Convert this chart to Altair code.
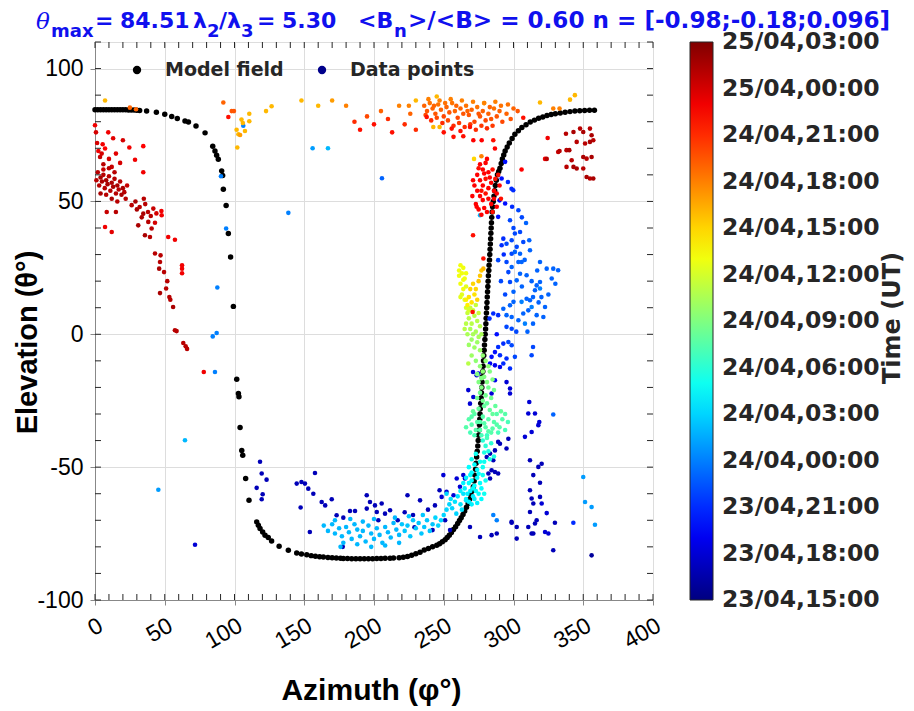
import altair as alt
import pandas as pd

# ---------------- values ----------------
# model field: [azimuth, elevation]
model_field = [
    [0,84.5],[2,84.5],[4,84.5],[6,84.5],[8,84.5],[10,84.5],[12,84.5],[14,84.5],[16,84.5],[18,84.5],
    [20,84.5],[22,84.5],[24,84.4],[26,84.4],[28,84.4],[30,84.3],[32,84.2],[37,84],[44,83.6],[50,82.8],
    [55,82],[59,81.2],[64.5,80.3],[67,79.9],[72.4,78.4],[78.9,75.8],[84.4,70.8],[86,69],[87.2,67.4],
    [88.4,65.9],[90.8,61.5],[91.5,59.8],[92,54.6],[94,48.5],[95.6,37.9],[97.2,29.1],[99.2,10.5],
    [101.6,-16.9],[102.8,-22.3],[103.2,-23.5],[104,-35.1],[105.2,-43.7],[105.9,-45.5],[108,-54.3],
    [110.4,-62.5],[115.9,-70.6],[117.1,-71.9],[118.3,-73.1],[120.2,-74.4],[121.9,-75.6],[124.2,-76.5],
    [126.6,-77.8],[132,-79.8],[138.6,-81.3],[144.6,-82.3],[148,-82.7],[151.8,-83],[155,-83.3],[158,-83.5],
    [161,-83.7],[163.7,-83.8],[167,-84],[170,-84.1],[173,-84.2],[176,-84.3],[178,-84.4],[181,-84.4],
    [184,-84.5],[187,-84.5],[190,-84.5],[193,-84.5],[196,-84.5],[199,-84.5],[202,-84.4],[205,-84.4],
    [208,-84.3],[211.5,-84.3],[214,-84.2],[218,-84.1],[221,-83.9],[224,-83.6],[227,-83.2],[230,-82.6],
    [233,-82],[236,-81.2],[239,-80.6],[242,-80],[245,-79.4],[247,-78.8],[249,-78.1],[251,-77.3],
    [252.5,-76.5],[254,-75.6],[255.5,-74.6],[257,-73.5],[258.5,-72.4],[260,-71.2],[261.3,-70.1],
    [262.5,-69],[263.8,-67.8],[265,-66.5],[266.3,-65.1],[267.5,-63.7],[268.5,-62.1],[269.5,-60.5],
    [270.4,-59],[271.2,-57.4],[271.8,-55.2],[272.3,-53],[272.8,-50.8],[273.2,-48.5],[273.6,-46.2],
    [274,-44],[274.4,-42],[274.7,-40],[275,-38],[275.3,-36],[275.6,-34],[275.8,-32],[276,-30],
    [276.2,-28],[276.5,-26],[276.8,-24],[277,-22],[277.3,-20],[277.5,-18],[277.7,-16],[278,-14],
    [278.2,-12],[278.5,-10],[278.7,-8],[279,-6],[279.2,-4],[279.5,-2],[279.7,0],[280,2],[280.2,4],
    [280.4,6],[280.6,8],[280.8,10],[281,12],[281.2,14],[281.4,16],[281.6,18],[281.8,20],[282,22],
    [282.3,24],[282.5,26],[282.8,28],[283,30],[283.2,32],[283.4,34],[283.6,36],[283.8,38],[284,40],
    [284.2,42],[284.4,44],[284.7,46],[285,48],[285.5,50],[286,52],[286.5,54],[287,56],[287.7,58],
    [288.5,60],[289.4,61.3],[290.3,62.5],[291.2,64.3],[292,66],[293,67.5],[294,69],[295.5,70.5],
    [297,72],[299,73.7],[301,75.3],[303.5,76.6],[306,77.8],[309,78.9],[312,79.9],[315,80.6],
    [318,81.3],[321,81.8],[324,82.3],[327,82.7],[330,83],[333.5,83.3],[337,83.6],[340.5,83.8],
    [344,84],[347.5,84.1],[351,84.2],[354.5,84.3],[358,84.3],
]

# data points: [azimuth, elevation, hours after 23/04 15:00 UT]
dark_red_left = [
    [0,78.7,32],[0.7,76,33],[9.5,76,32],[13,73.8,32.5],[20,73,33],[24.6,70.3,32],[34.6,70.8,31.5],
    [28.7,65.7,32],[34.6,61,32],[2.4,69,32],[4.8,68,33],[7.2,69.9,31.5],[3.6,66.7,33.5],[1.5,72,33],
    [5.5,71.5,32],[10,66,33],[12,63,33.5],[6,64,34],[15,68,32.5],[18,64.5,33],
    [2,61,34],[4,59,34.5],[6,60,34],[8,58,34.5],[10,59.5,34],[12,57,34.5],[14,58.5,34],[16,56,34.5],
    [18,57.5,34],[20,55,34.5],[3,56,34],[5,57.5,34.5],[7,55,34],[9,56.5,34.5],[11,54,34],[13,55.5,34.5],
    [15,53,34],[17,54.5,34],[19,52.5,34.5],[21,53.5,34],[22,51,34],[8,52.5,34],[12,51,34.5],[16,50,34],
    [4,53,34.5],[1,58,34],[6,62,33.5],[14,61,34],[23,56,33.5],[10,62.5,34],
    [26.3,48.6,34],[30,47,34.5],[32,47.9,34],[34.6,45.4,34.5],[36,49,34],[38,46,34],[33.5,44,34.5],
    [40,44.5,34],[41.8,47.3,33.5],[44,45.5,33],[47.8,44.8,32],[38.2,42.3,34],[31,41,34.5],[40.6,39.8,34],
    [35.8,37.3,34.5],[39.4,36.6,34],[47.6,46.4,32],[29,50,34.5],[35,51,34],[43,42,33],
    [8.4,46,33.5],[15,46,34],[7.2,40.4,32],[12,38.5,32.5],[52.5,36.6,32],[57.3,35.6,32],
    [43,30.4,34],[47,29.7,34],[46.6,27.2,34],[46,24.7,34.5],[49.5,23.4,34],[62.4,26,32],[62.4,24.7,32],
    [62.4,23,32],[51.8,20,34],[51,17.2,34],[46.6,15.5,34.5],[53.3,14,34],[54,13,34],[56,10.3,34.5],
    [57.3,1.5,34],[58.5,1.2,34],[63.3,-3.3,34],[65,-4.5,34],[66,-5.5,34],[78,-14.2,32],
]

top_left_scatter = [
    [7.2,88,25],[25,85.3,28],[29.4,84.7,28],
    [92,87.2,28],[98,84,28.5],[99.6,84,28.5],[95.6,81.8,31],[105,80.8,25],[106,79.5,25],[106.3,78.5,9],
    [110.6,83,25],[110.6,80.2,25],[101.5,77,25],[102.8,75.3,25],[104,75,26],[107.5,76.5,25],[102,70.3,25],
    [122.6,84,25],[126.6,85.8,25],
    [90.3,59.5,9],[94,39.8,9],[87.7,17.6,9],[84.4,-0.8,9],[87.2,0.5,9],[86,-14.2,9],[138.6,45.7,9],
    [64.5,-39.9,11],[45.4,-58.5,10],[71.7,-79.2,3],[156,70,10],[167,70,11],[205.7,58.7,8],
    [148,88,25],[160,86,25],[170,88,26],[180,86,27],[186,80,30],[190,77,31],[195,82,29],[200,79,31],
    [205,84,28],[210,81,30],[213,76,31],[218,86,27],[222,79,30],[226,83,28],[230,77,30],
]

orange_band = [
    [236,86,28],[238,84,28.5],[240,87,27.5],[242,85,28],[244,83,28.5],[246,86.5,27.5],[248,84.5,28],
    [250,82,29],[252,85.5,28],[254,83.5,28.5],[256,87,27.5],[258,84,28],[260,81.5,29],[262,85,28],
    [264,83,28.5],[266,86,27.5],[268,82.5,28.5],[270,84.5,28],[272,80,29],[274,85.5,27.5],[276,82,28.5],
    [278,84,28],[280,80.5,29],[282,83,28],[284,81,28.5],[286,85,27.5],[288,82,28.5],[290,84,28],
    [292,80,29],[295,83,28],[298,81,28.5],[237,82.5,29],[241,80.5,30],[245,81.5,29],[249,79.5,30],
    [253,80.5,29],[257,78.5,30],[261,79.5,29.5],[265,78,30],[269,79,29.5],[273,77,30],[277,78.5,29.5],
    [281,77.5,30],[285,78.5,29.5],[239,88.5,27],[247,88,27],[255,88.5,27],[263,88,27],[271,87.5,27],
    [279,87,27],[287,87.5,27],[243,86,28],[251,87,27.5],[259,86,28],[267,84,28],[275,83,28.5],
    [283,85.5,28],[291,86,27.5],[296,86.5,27.5],[300,85,28],[303,84,28.5],
    [237.8,81.8,31],[255.7,77.4,31],[257,74.3,31],[264,74.5,31],[268.8,78,31],[271.2,73,31.5],
    [277.2,73,31.5],[285.5,73,31],[286.7,69.9,31.5],[307,81.5,31],[305.8,62,31.5],[322.6,66,32],
    [324.5,73.9,32],[250,76,31],[262,76.5,31],
    [242.5,78,25],[247,78,25],[278.9,87,25],[319,87.2,25],[328.5,85,27],[333,85,27],[340.5,88.3,25],
    [344,90,25],[271.7,66,24],[277,67,27],[245,89.5,25],[230,88,25],[225,86,27],
]

dark_red_right = [
    [337.6,75.5,34],[343,76.1,34.5],[347.7,77.4,34],[350,76.1,34.5],[354.8,77.4,34],[356,74.9,34.5],
    [357.2,73,34],[354.8,72.4,34.5],[351.3,71.8,34],[345.3,72.4,34],[340,69.3,34.5],[338,69.3,34],
    [332,68.6,33.5],[350,66.7,34.5],[352.4,66.1,34],[356,66.7,34.5],[341.7,65.5,34],[343,63,34.5],
    [338,63,34],[345.3,62.4,34.5],[350,62.4,34],[352.4,59.2,34.5],[354.8,58.6,34],[357.2,58.6,34.5],
    [323.8,66,34],[333,69,34],
]

red_blob = [
    [276,64,31.5],[278,62,31.5],[280,64.5,31.5],[282,61,31.5],[274,60,31.5],[276,58,31.5],[278,56,31.5],
    [280,58.5,31],[282,55,31.5],[284,57,31.5],[286,54,31.5],[272,56,31.5],[274,54,31.5],[276,52,31.5],
    [278,50.5,31.5],[280,53,31],[282,51,31.5],[284,49,31.5],[286,51,31.5],[288,53,31.5],[290,56,31.5],
    [273,49,31.5],[275,47,31.5],[279,47.5,31.5],[281,46,31.5],[277,45,31.5],[285,46,31],[270.5,52,31.5],
    [288,48,31.5],[279,60.5,31.5],[283,59,31.5],[275,62.5,31],[281,66,31.5],[287,58.5,31],[271,58,31.5],
    [285,62,31],[289,60,31],[273.6,48,31.5],[291,51,31],[277,54,31],
    [271,37.3,31],[278.4,28.5,31],[270.7,8.4,31],[278.4,24.7,25],
]

blue_cluster = [
    [294,64.9,5],[291.5,58.6,5],[296,57.3,6],[298.6,54.8,6],[299.8,54.2,6],[290,50.4,4],[294,49.2,5],
    [276,44.8,11],[289,44.2,5],
    [303.5,46.7,7],[297.5,42.9,7],[309,41.9,8],[304.7,38.5,7],[301,37.9,7],[292.7,36,6],[298.7,35.4,7],
    [291.5,33.5,6],[295,34.1,7],[302.3,32.9,7],[301,31,8],[298.7,30.3,7],[304.7,30.3,8],[307,34.7,7],
    [311.8,31.6,8],[311.3,35.4,8],[289,27.9,7],[295,27.2,7],[298.7,25.3,8],[296.3,23.4,7],[303.5,27.2,8],
    [305.8,27.2,8],[309.4,22.2,8],[304.7,22.8,8],[302.3,20.3,8],[297.5,19.7,7],[319,27.2,8],[323.8,24.7,8],
    [328.5,24.7,8],[332,24.1,8],[327.4,21,8],[319,19.7,8],[316.6,18.4,8],[315.4,16.6,8],[319,17.2,9],
    [320,14,8],[314,14,8],[311.8,12.8,8],[313,10.3,9],[310.6,9,8],[307,7.8,8],[316.6,7.2,8],[322.6,10.3,8],
    [321.4,6.5,8],[314,4,8],[308.2,4,9],[303.5,5.3,8],[298.7,6.5,8],[295,7.2,8],[292.7,9.6,8],
    [297.5,10.9,8],[300,12.2,8],[305.8,12.2,9],[309.4,13.4,8],[295,2.8,7],[298.7,2.1,7],[289,7.2,6],
    [285.5,7.8,6],[282.8,5.9,6],[292.7,-3.5,6],[289,-4.8,6],[296.3,-2.9,7],[298.7,-4.1,7],[286.7,-6.7,5],
    [290.3,-7.9,6],[295,-9.1,6],[301,-8.5,7],[284.3,-8.5,5],[292.7,-11,6],[297.5,-12.9,6],[314,-4.8,7],
    [313,-7.9,7],[300,40,7],[306,44,7],[293,30,6],[308,28,8],[313,20,8],[317,24,8],[300,16,8],[306,18,8],
    [294,15,7],[302,1,7],[310,1,8],[318,12,8],[325,15,8],[330,19,8],[288,0,5],[291,20,7],[299,48,6],
]

dark_blue_right = [
    [271,-14.2,3],[274.8,-14.8,3],[267.6,-21,3],[273.6,-15.4,3],[268.8,-26.1,3],[271.2,-23.6,3],
    [284.3,-22.3,3],[286.7,-17.3,4],[297.5,-20.4,3],[297.5,-22.3,3],[295,-18,3],[290.3,-12.3,4],
    [283.2,-11,4],[286.7,-11.7,4],[311.3,-25.5,3],[310.6,-29.8,3],[315.4,-29.8,3],[318.5,-33,3],
    [317.8,-34.2,3],[313,-36.8,3],[308.2,-38.6,3],[328.5,-30.2,8],[296.3,-39.3,2],[295,-43,2],
    [290.3,-41.2,2],[289,-40.5,2],[286.7,-43.7,2],[283.2,-44.9,2],[285.5,-47.4,2],[280.8,-46.2,2],
    [284.3,-51.2,2],[282,-52.4,2],[286.7,-51.8,2],[283.2,-54.3,2],[289,-52.4,2],[249.7,-53,3],
    [259.3,-54.3,3],[264,-53,3],[265.2,-54.3,3],[252,-59.3,3],[257,-60.6,3],[248.5,-61.2,3],[261.6,-57.4,3],
    [311.8,-47.4,2],[317.8,-49.9,2],[320.2,-48.7,2],[314.2,-53,2],[319,-55.9,2],[311.8,-58.7,2],
    [313,-61.8,2],[314.2,-63.7,2],[311.8,-66.9,2],[319,-61.2,2],[320.2,-63.7,3],[323.8,-67.3,3],
    [316.6,-70,2],[315.4,-71.2,2],[329.7,-70.9,2],[310.6,-72.5,2],[313,-75,2],[314.2,-75,2],
    [322.6,-74.4,3],[325,-75,3],[302.3,-72.5,2],[298.7,-70.9,2],[302.3,-76.9,2],[328.5,-81.3,2],
    [356,-83.2,1],[342.9,-70.9,6],[350,-53.7,10],[351.3,-63.1,10],[356,-65,10],[358.4,-71.7,10],
    [268.8,-72.5,2],[276,-76.3,2],[284.3,-75.6,2],[288,-75,2],[298.6,-70.6,2],[285.5,-68,9],[288,-70,9],
]

dark_blue_left = [
    [118.3,-48,2],[119.5,-52.4,2],[123,-54.7,2],[115.9,-57.8,2],[120.2,-60.2,2],[119.5,-62.1,2],
    [157.7,-52.2,2],[144.6,-56.2,2],[148,-55.6,2],[150.5,-56.2,2],[152.9,-58.1,2],[156.5,-60,2],
    [147.4,-65.2,2],[162.5,-63.1,2],[165,-64.4,2],[169.7,-62.1,2],[154,-74.4,2],[177.6,-80,2],
    [173.2,-68.1,2],[178,-69,2],[182.8,-66.5,2],[186.4,-66.5,2],[194.8,-60.6,2],[197.1,-63.1,2],
    [200.7,-64.4,2],[205.5,-63.7,2],[202,-66.9,2],[194.8,-65.6,2],[203.1,-70,2],[207.9,-67.5,2],
    [211.5,-66.2,2],[222,-67,2],[228,-68,2],[233,-62.5,2],[238.7,-66,2],[243.7,-64.4,2],[251,-70,2],
    [254.5,-73.7,2],[229,-72.6,2],[217,-70,2],[247,-58.7,2],[242,-73.7,2],[224,-60.6,2],
]

light_blue_band = [
    [164,-72,11],[167,-74,11],[170,-71.5,11],[172,-75,11],[175,-73,11],[177,-76,11],[180,-72.5,11],
    [182,-74.5,11],[184,-77,11],[186,-71.5,11],[188,-73.5,11],[190,-76,11],[192,-74,11],[194,-78,11],
    [196,-72,11],[198,-75,11],[200,-77,11],[202,-73,11],[204,-75.5,11],[206,-78.5,11],[208,-72.5,11],
    [210,-74.5,11],[212,-76.5,11],[214,-71,11],[216,-73.5,11],[218,-75.5,11],[220,-71.5,11.5],
    [222,-74,11.5],[224,-72,11.5],[226,-76,11.5],[228,-70,11.5],[230,-73,11.5],[232,-71,11.5],
    [234,-75,11.5],[236,-72.5,11.5],[238,-70,11.5],[240,-74,11.5],[242,-71.5,11.5],[244,-69,12],
    [246,-72,12],[248,-70,12],[250,-68,12],[252,-66,12],[254,-64,12],[178,-78.5,11],[188,-79,11],
    [198,-80,11],[208,-79.5,11],[218,-78.5,11],[172,-70,11],[192,-70.5,11],[215,-69,11],[225,-68.5,11.5],
    [235,-68,11.5],[200,-69.5,11],[183,-69.5,11],[176,-80,11],
    [252,-60,12],[255,-62,12.5],[258,-63,12.5],[260,-61,12.5],[262,-64,12.5],[264,-60,12.5],
    [266,-62.5,12.5],[256,-65.5,12],[259,-67.5,12],[263,-66,12.5],
]

cyan_green_plume = [
    [268,-50,13.5],[270,-52,13.5],[272,-49,13.5],[274,-51,13.5],[276,-48,14],[278,-50,14],[266,-54,13],
    [268,-56,13.5],[270,-55,13.5],[272,-57,13.5],[274,-54,13.5],[276,-56,13.5],[278,-53,14],[280,-55,14],
    [265,-58,13],[267,-60,13],[269,-59,13],[271,-61,13],[273,-59,13.5],[275,-60,13.5],[277,-58,13.5],
    [279,-60,14],[266,-62,13],[268,-63,13],[270,-64,13],[272,-62,13],[274,-63.5,13],[270,-47,14],
    [273,-45,14],[275,-52.5,13.5],[271,-58,13.5],[269,-53,13.5],[277,-62,13.5],[264,-56,13],[262,-59,13],
    [279,-48,14],
    [278,-40,15],[280,-42,15],[282,-44,14.5],[284,-41,15],[286,-46,14.5],[281,-38,15.5],[279,-44.5,14.5],
    [283,-47,14.5],
    [268,-32,16.5],[270,-34,16.5],[272,-30,16.5],[274,-33,16.5],[276,-36,16.5],[278,-31,16.5],
    [280,-35,16.5],[282,-32,16.5],[284,-37,16.5],[286,-33,16.5],[288,-30,16.5],[290,-35,16.5],
    [292,-32,16.5],[294,-36,16],[296,-33,16],[266,-35,16.5],[269,-37,16],[272,-38,16],[275,-28,17],
    [279,-27,17],[283,-28.5,17],[287,-27,17],[291,-29,17],[273,-36,16.5],[277,-38,16],[281,-39,16],
    [285,-30,17],[289,-37,16],[271,-29,17],[288,-34,16.5],[276,-33,16.5],[282,-36.5,16.5],[270,-31,16.5],
    [285,-35.5,16.5],[279,-33.5,16.5],[294,-30,16.5],
    [274,-24,17.5],[276,-22,17.5],[278,-25,17.5],[280,-23,17.5],[282,-20,17.5],[284,-24,17.5],
    [275,-18,18],[277,-20,18],[279,-16,18],[281,-18,18],[283,-14,18],[285,-17,18],[276,-12,18.5],
    [278,-14,18.5],[280,-10,18.5],[282,-12,18.5],[274,-15,18],[286,-21,17.5],[281,-26,17],[277,-16.5,18],
    [268,-4,19],[270,-2,19],[272,-5,19],[274,-3,19],[276,-6,19],[278,-8,18.5],[267,0,19.5],[269,2,19.5],
    [271,0,19.5],[273,1,19.5],[275,-1,19.5],[266,4,20],[268,6,20],[270,4,20],[272,7,20],[274,5,20],
    [276,3,20],[267,8,20.5],[269,10,20.5],[271,9,20.5],[273,11,20.5],[275,8,20.5],[270,-8,19],
    [273,-10,18.5],[265,2,20],[277,0,19.5],[267.6,-11,20],
    [268,14,23.5],[270,12,23.5],[272,15,23.5],[274,13,24],[269,17,24],[271,19,24],[273,17,24],
    [275,20,24.5],[276,22,24.5],[277,24,24.5],[267,11,23],[266,13,23],
    [262,26,22],[264,25,22],[263,23,22],[261,22,22],[265,21,22],[262,19,22],[264,17,22],[266,18,21.5],
    [263,15,21.5],[265,13,21.5],[261,24,22],[266,23,22],[264,20.5,22],[262,14,21.5],[266,10,21],[268,9,21],
]

time_labels = ["23/04,15:00", "23/04,18:00", "23/04,21:00", "24/04,00:00", "24/04,03:00",
               "24/04,06:00", "24/04,09:00", "24/04,12:00", "24/04,15:00", "24/04,18:00",
               "24/04,21:00", "25/04,00:00", "25/04,03:00"]
time_ticks = [0, 3, 6, 9, 12, 15, 18, 21, 24, 27, 30, 33, 36]
jet_domain = [0, 4.5, 13.5, 22.5, 31.5, 36]
jet_colors = ["#000080", "#0000ff", "#00ffff", "#ffff00", "#ff0000", "#800000"]

x_label_values = [0, 50, 100, 150, 200, 250, 300, 350, 400]
y_label_values = [-100, -50, 0, 50, 100]
x_tick_values = list(range(0, 401, 10))
y_tick_values = list(range(-100, 111, 10))

# ---------------- chart ----------------
W, H = 558, 558
INK = "#262626"
BLUE = "#1010ee"
FONT = "DejaVu Sans"
LAB = 23.5

points = (dark_red_left + top_left_scatter + orange_band + dark_red_right + red_blob +
          blue_cluster + dark_blue_right + dark_blue_left + light_blue_band + cyan_green_plume)
df = pd.DataFrame(points, columns=["az", "el", "t"]).sort_values("t", kind="stable")
mf = pd.DataFrame(model_field, columns=["az", "el"])

xscale = alt.Scale(domain=[0, 400], nice=False, zero=False)
yscale = alt.Scale(domain=[-100, 110], nice=False, zero=False)

xaxis = alt.Axis(values=x_label_values, labelAngle=330, labelAlign="right", labelBaseline="top",
                 labelFontSize=23, labelPadding=9, titleFontSize=30,
                 titleX=276, titleY=90, titleBaseline="middle", titleAlign="center",
                 title="Azimuth (φ°)")
yaxis = alt.Axis(values=y_label_values, labelFontSize=23, labelPadding=7, titleFontSize=29,
                 labelExpr="'' + datum.value",
                 titleX=-68, titleY=300, titleAngle=270, titleBaseline="middle", titleAlign="center",
                 title="Elevation (θ°)")

legend = alt.Legend(
    title=None, orient="right", offset=37, direction="vertical",
    gradientLength=H, gradientThickness=23, gradientStrokeColor=INK, gradientStrokeWidth=1,
    values=time_ticks[1:-1],
    labelExpr="[" + ",".join("'%s'" % s for s in time_labels) + "][round(datum.value / 3)]",
    labelFont=FONT, labelFontWeight="bold", labelFontSize=LAB, labelColor=INK,
    labelOffset=9, labelBaseline="middle", labelOverlap=False, labelLimit=400,
)

model_layer = alt.Chart(mf).mark_circle(size=30, color="black", opacity=1).encode(
    x=alt.X("az:Q", scale=xscale, axis=xaxis), y=alt.Y("el:Q", scale=yscale, axis=yaxis))

data_layer = alt.Chart(df).mark_circle(size=21, opacity=1).encode(
    x=alt.X("az:Q", scale=xscale, axis=xaxis), y=alt.Y("el:Q", scale=yscale, axis=yaxis),
    color=alt.Color("t:Q", scale=alt.Scale(domain=jet_domain, range=jet_colors, interpolate="rgb"),
                    legend=legend),
)

def tick_layer(values, channel, start, end):
    d = pd.DataFrame({"v": values})
    base = alt.Chart(d).mark_rule(color=INK, strokeWidth=1)
    if channel == "x":
        return base.encode(x=alt.X("v:Q", scale=xscale, axis=xaxis),
                           y=alt.value(start), y2=alt.value(end))
    return base.encode(y=alt.Y("v:Q", scale=yscale, axis=yaxis),
                       x=alt.value(start), x2=alt.value(end))

ticks = [
    tick_layer(x_tick_values, "x", H, H - 6),
    tick_layer(x_tick_values, "x", 0, 6),
    tick_layer(y_tick_values, "y", 0, 6),
    tick_layer(y_tick_values, "y", W, W - 6),
]

def text_layer(txt, x, y, size, font=FONT, weight="bold", style="normal", color=INK,
               baseline="alphabetic", align="left", angle=0):
    return alt.Chart(pd.DataFrame({"s": [txt]})).mark_text(
        align=align, baseline=baseline, fontSize=size, font=font, fontWeight=weight,
        fontStyle=style, color=color, angle=angle,
    ).encode(x=alt.value(x), y=alt.value(y), text="s:N")

def dot_layer(x, y, color):
    return alt.Chart(pd.DataFrame({"s": [0]})).mark_circle(size=70, color=color, opacity=1).encode(
        x=alt.value(x), y=alt.value(y))

LX = W + 37 + 23 + 9
key = [
    dot_layer(42, 28, "black"),
    text_layer("Model field", 70, 28, 19, baseline="middle"),
    dot_layer(227, 28, "#00008b"),
    text_layer("Data points", 255, 28, 19, baseline="middle"),
    text_layer(time_labels[-1], LX, 0, LAB, baseline="middle"),
    text_layer(time_labels[0], LX, H, LAB, baseline="middle"),
    text_layer("Time (UT)", 798, 276, 24, baseline="middle", align="center", angle=270),
]

# title segments, each placed at the x position (plot coordinates)
TB, SB = -14, -5
TS, SS = 22, 18
title = [
    text_layer("θ", -59, -13, 23, font="DejaVu Serif", weight="normal", style="italic", color=BLUE),
    text_layer("max", -44, SB, SS, color=BLUE),
    text_layer("=", 0, TB, TS, color=BLUE),
    text_layer("84.51", 25, TB, TS, color=BLUE),
    text_layer("λ", 98, TB, TS, color=BLUE),
    text_layer("2", 112, SB, SS, color=BLUE),
    text_layer("/", 124, TB, TS, color=BLUE),
    text_layer("λ", 132, TB, TS, color=BLUE),
    text_layer("3", 146, SB, SS, color=BLUE),
    text_layer("=", 162, TB, TS, color=BLUE),
    text_layer("5.30", 187, TB, TS, color=BLUE),
    text_layer("<B", 263, TB, TS, color=BLUE),
    text_layer("n", 299, SB, SS, color=BLUE),
    text_layer(">/<B> = 0.60 n = [-0.98;-0.18;0.096]", 313, TB, 23.1, color=BLUE),
]

chart = alt.layer(model_layer, data_layer, *ticks, *key, *title).properties(
    width=W, height=H,
    autosize=alt.AutoSizeParams(type="none"),
    padding={"left": 87, "top": 34, "right": 253, "bottom": 110},
).configure_view(stroke=INK, strokeWidth=1).configure_axis(
    labelFont=FONT, labelFontWeight="bold", labelColor=INK,
    titleFont=FONT, titleFontWeight="bold", titleColor=INK,
    ticks=False, domain=False, grid=False,
).configure(background="white")

chart.save("out.html", embed_options={"renderer": "svg", "actions": False})
